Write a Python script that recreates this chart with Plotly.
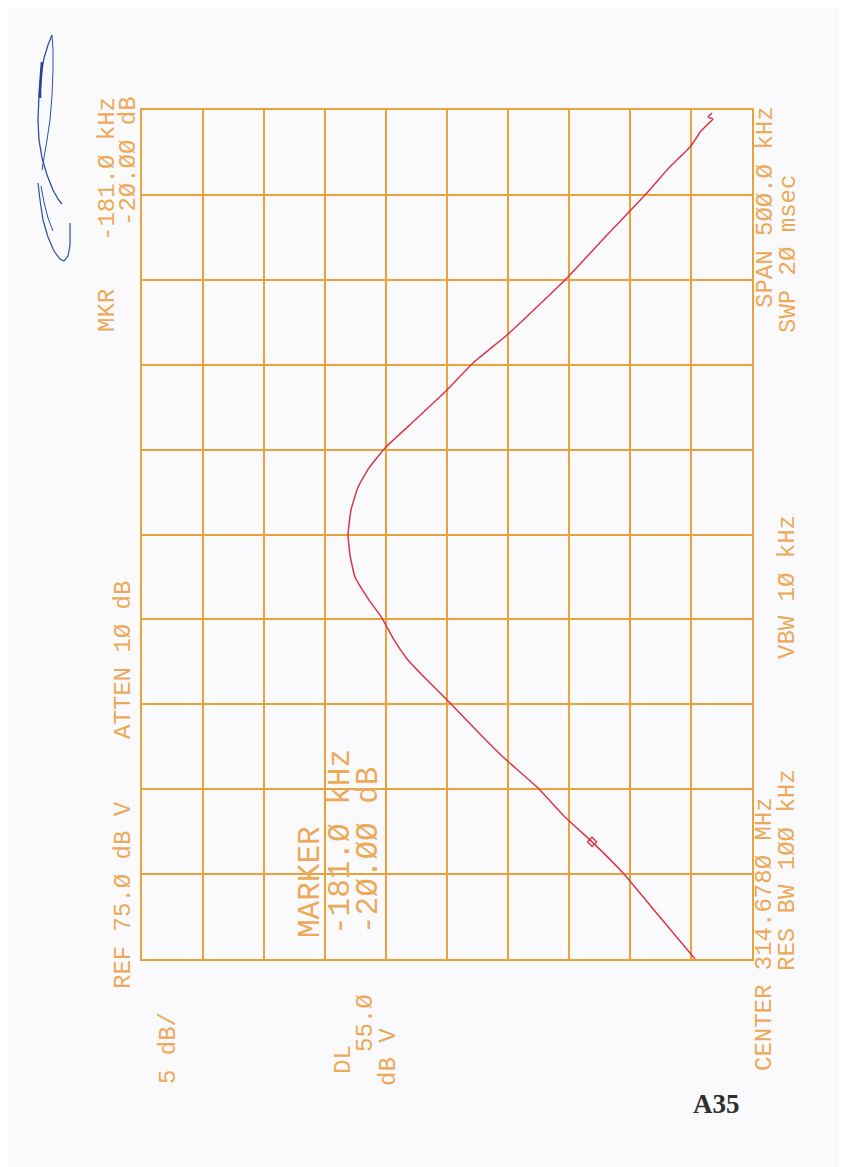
import plotly.graph_objects as go

# ---- data (frequency offset from centre in kHz, level in dBV)
freq_khz = [-250.0, -224.7, -199.4, -181.0, -166.4, -149.3, -131.0, -115.1, -99.2,
            -85.7, -73.9, -62.1, -49.2, -38.6, -25.0, -12.1, 0.0, 14.4, 28.0, 39.2,
            51.0, 67.4, 85.1, 101.0, 117.5, 135.2, 151.1, 176.4, 201.1, 214.7, 228.2,
            234.1, 237.0, 241.2, 244.7, 245.9, 248.2]
level_dbv = [29.67, 32.62, 35.57, 38.11, 40.33, 42.54, 45.41, 47.62, 49.75,
             51.64, 53.20, 54.34, 55.33, 56.39, 57.54, 57.95, 58.11, 57.87, 57.29, 56.39,
             55.08, 52.62, 50.00, 47.87, 45.08, 42.46, 40.16, 36.88, 33.61, 31.97, 30.08,
             29.51, 29.26, 28.69, 28.20, 28.61, 28.28]
marker_freq = [-181.0]
marker_level = [38.11]

ref_level = 75.0
db_per_div = 5
half_span_khz = 250

# ---- page geometry (page pixels; the html body adds an 8 px offset)
OFF = 8
W, H = 847 - OFF, 1167 - OFF
L, R, T, B = 142, 752, 110, 959
GRID = "#EAA23A"
TXT = "#ECA958"
TRACE = "#D93646"
BG = "#FAFAFC"

def px(xp):
    return (xp - L) / (R - L)

def py(yp):
    return (B - yp) / (B - T)

fig = go.Figure()
fig.add_trace(go.Scatter(
    x=level_dbv, y=freq_khz, mode="lines",
    line=dict(color=TRACE, width=1.5, shape="spline", smoothing=0.4),
    hoverinfo="skip", showlegend=False))
fig.add_trace(go.Scatter(
    x=marker_level, y=marker_freq, mode="markers",
    marker=dict(symbol="diamond-open", size=7, color=TRACE, line=dict(width=1.4, color=TRACE)),
    hoverinfo="skip", showlegend=False))

def ann(text, cx, cy, size=24, angle=-90, color=TXT, family="Liberation Mono"):
    return dict(text=text, x=px(cx), y=py(cy), xref="paper", yref="paper",
                xanchor="center", yanchor="middle", showarrow=False, textangle=angle,
                font=dict(family=family, size=size, color=color))

annotations = [
    ann("MKR", 107, 311),
    ann("-181.Ø kHz", 107, 169),
    ann("-2Ø.ØØ dB", 128, 161),
    ann("REF 75.Ø dB V", 123, 895),
    ann("ATTEN 1Ø dB", 123, 660),
    ann("5 dB/", 168, 1048),
    ann("MARKER", 310, 882, size=31),
    ann("-181.Ø kHz", 340, 842, size=31),
    ann("-2Ø.ØØ dB", 368, 851, size=31),
    ann("DL", 343, 1060),
    ann("55.Ø", 365, 1023),
    ann("dB V", 388, 1057),
    ann("CENTER 314.678Ø MHz", 764, 934),
    ann("RES BW 1ØØ kHz", 787, 870),
    ann("VBW 1Ø kHz", 787, 587),
    ann("SPAN 5ØØ.Ø kHz", 765, 207),
    ann("SWP 2Ø msec", 788, 254),
    ann("<b>A35</b>", 716, 1104, size=27, angle=0, color="#2E2E2E", family="Liberation Serif"),
]

# signature (blue ink), page-pixel coordinates converted to paper space
def path(points):
    s = "M %.4f %.4f" % (px(points[0][0]), py(points[0][1]))
    for i in range(1, len(points)):
        s += " L %.4f %.4f" % (px(points[i][0]), py(points[i][1]))
    return s

sig_a = [(52, 35), (48, 45), (44, 58), (41, 75), (39, 95), (38, 120), (39, 140),
         (42, 158), (47, 175), (53, 190), (58, 199), (62, 204)]
sig_b = [(52, 35), (53, 50), (53, 70), (52, 95), (50, 120), (47, 140), (44, 158), (42, 170)]
sig_c = [(38, 183), (40, 200), (43, 220), (48, 237), (54, 251), (60, 259), (64, 261),
         (68, 256), (70, 245), (70, 232), (70, 223)]
sig_d = [(41, 186), (44, 202), (48, 218), (53, 231)]
shapes = []
for pts, w in ((sig_a, 1.3), (sig_b, 1.0), (sig_c, 1.2), (sig_d, 1.0)):
    shapes.append(dict(type="path", path=path(pts), xref="paper", yref="paper",
                       line=dict(color="#2F4DA8", width=w)))
shapes.append(dict(type="path", path=path([(42, 62), (41, 75), (40, 90), (40, 98)]),
                   xref="paper", yref="paper", line=dict(color="#2A3F96", width=2.6)))

axis_style = dict(showgrid=True, gridcolor=GRID, gridwidth=1.5, zeroline=False,
                  showline=True, linecolor=GRID, linewidth=1.5, mirror=True,
                  showticklabels=False, ticks="")

fig.update_layout(
    width=W, height=H,
    margin=dict(l=L - OFF, r=W - (R - OFF), t=T - OFF, b=H - (B - OFF)),
    paper_bgcolor=BG, plot_bgcolor=BG,
    showlegend=False,
    annotations=annotations,
    shapes=shapes,
    xaxis=dict(range=[ref_level, ref_level - 10 * db_per_div], dtick=db_per_div, tick0=0,
               **axis_style),
    yaxis=dict(range=[-half_span_khz, half_span_khz], dtick=half_span_khz / 5, tick0=0,
               **axis_style),
)

fig.write_html("out.html")
